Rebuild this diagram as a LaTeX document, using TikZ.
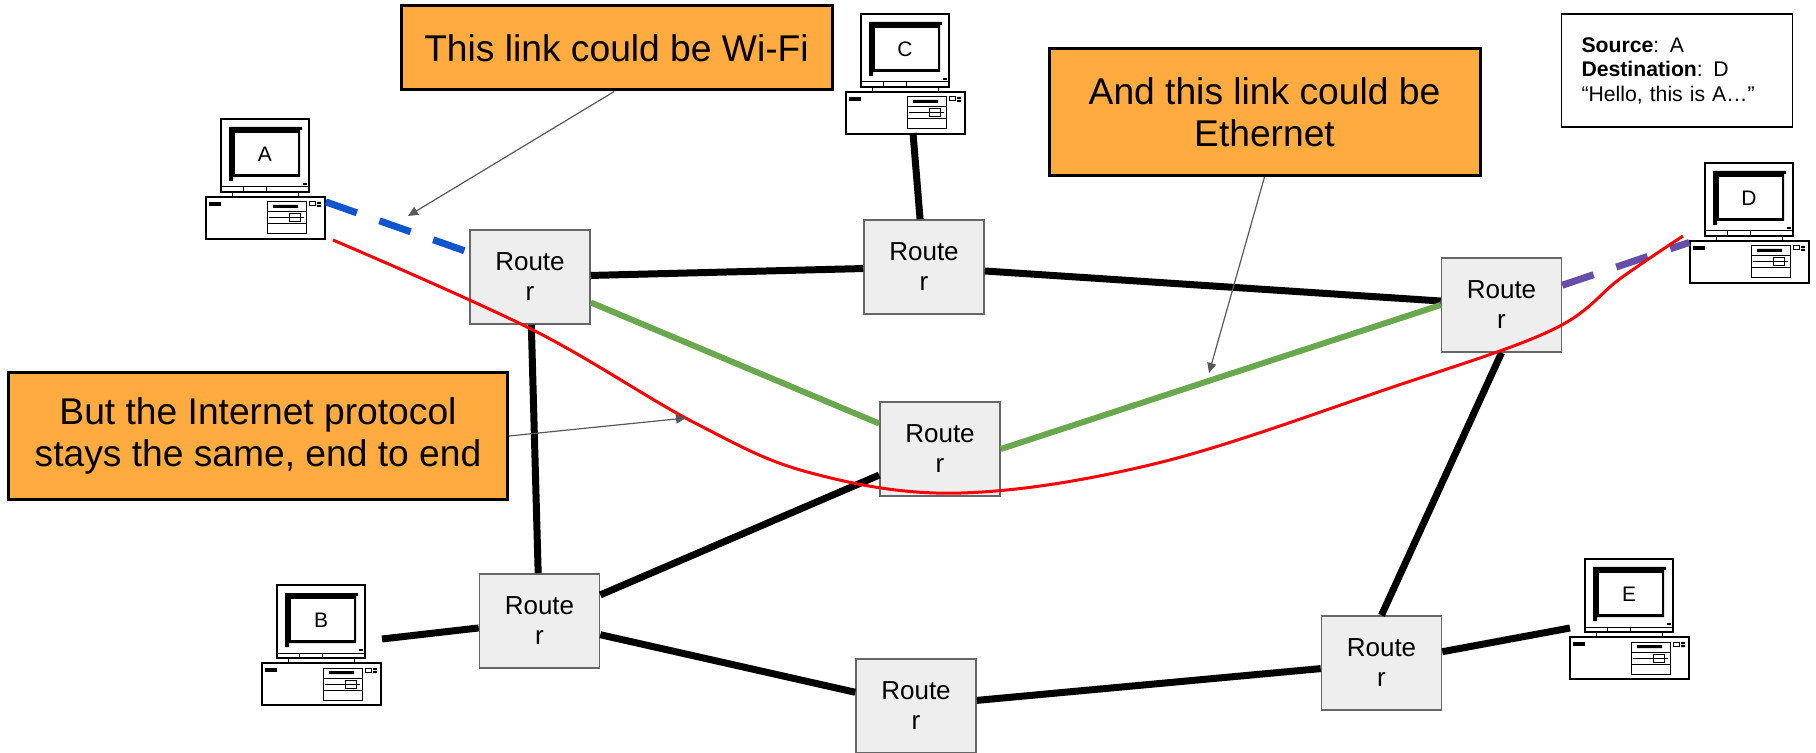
\documentclass[tikz,border=0pt]{standalone}
\usepackage{fontspec}
\setmainfont{Liberation Sans}
\usetikzlibrary{arrows.meta}
\definecolor{notefill}{HTML}{FFAB40}
\definecolor{routerfill}{HTML}{EEEEEE}
\definecolor{routerline}{HTML}{666666}
\definecolor{wifiblue}{HTML}{1155CC}
\definecolor{ethgreen}{HTML}{6AA84F}
\definecolor{linkpurple}{HTML}{674EA7}
\definecolor{pointergray}{HTML}{595959}
\tikzset{
  router/.style={draw=routerline,fill=routerfill,line width=0.8pt,minimum width=60pt,minimum height=47pt,
    inner sep=0pt,align=center,font=\fontsize{13}{15}\selectfont},
  note/.style={draw=black,fill=notefill,line width=1.5pt,minimum width=215.5pt,inner sep=0pt,align=center,
    font=\fontsize{18.6}{21}\selectfont},
  infobox/.style={draw=black,line width=0.9pt,text width=95.5pt,inner xsep=10pt,minimum height=56.5pt,align=left,
    font=\fontsize{10.6}{12.25}\selectfont},
  wire/.style={line width=3.5pt},
  wifilink/.style={wire,wifiblue,dash pattern=on 16.5pt off 12pt},
  pointer/.style={pointergray,line width=0.6pt,-{Triangle[length=5pt,width=4.5pt]}},
  pics/computer/.style={code={
    \draw[line width=0.7pt] (15,0) rectangle (103,73);
    \draw[line width=0.5pt] (15,68) -- (103,68) (37,68) -- (37,73) (60,68) -- (60,73);
    \fill (23,8) -- (96,8) -- (96,11) -- (94,11) -- (94,58) -- (27,58) -- (27,62) -- (23,62) -- cycle;
    \fill[white] (29,14) rectangle (92,55);
    \fill (97,64) rectangle (101,66);
    \draw[line width=0.5pt] (26,73) -- (26,78) (92,73) -- (92,78);
    \node[draw,line width=0.7pt,minimum width=59.5pt,minimum height=21pt,inner sep=0pt] (-base) at (59.5,99) {};
    \fill (3,83) rectangle (15,87);
    \draw[line width=0.5pt] (61,83) rectangle (100,115) (61,93) -- (100,93) (61,105) -- (100,105)
      (63,99) -- (98,99) (83,95) rectangle (94,103) (103,83) rectangle (109,87);
    \fill (67,86) rectangle (92,89) (111,83) rectangle (115,85) (111,86) rectangle (115,88);
    \node[font=\fontsize{10.5}{12}\selectfont,inner sep=0pt] (-label) at (59,35) {#1};
  }}
}
\begin{document}
\begin{tikzpicture}[x=0.5pt,y=-0.5pt]
  \useasboundingbox (0,0) rectangle (1816,753);
  % hosts
  \pic (A) at (206,119) {computer={A}};
  \pic (B) at (262,585) {computer={B}};
  \pic (C) at (846,14) {computer={C}};
  \pic (D) at (1690,163) {computer={D}};
  \pic (E) at (1570,559) {computer={E}};
  % routers
  \node[router] (r1) at (530,277) {Route\\r};
  \node[router] (r2) at (924,267) {Route\\r};
  \node[router] (r3) at (1501.5,305) {Route\\r};
  \node[router] (r4) at (940,449) {Route\\r};
  \node[router] (r5) at (539.5,621) {Route\\r};
  \node[router] (r6) at (916,706) {Route\\r};
  \node[router] (r7) at (1381.5,663) {Route\\r};
  % free ends
  \coordinate (bend) at (382,639);
  \coordinate (cend) at (913,133);
  \coordinate (eend) at (1570,628);
  \begin{scope}[wire]
    \draw (r1) to (r2);
    \draw (r2) to (r3);
    \draw (r1) to (r5);
    \draw (r5) to (r4);
    \draw (r5) to (r6);
    \draw (r6) to (r7);
    \draw (r7.north) to (r3.south);
    \draw (bend) to (r5);
    \draw (cend) to (r2);
    \draw (r7) to (eend);
  \end{scope}
  \begin{scope}[wire,ethgreen,line width=3pt]
    \draw (r1) to (r4);
    \draw (r4.east) to (r3.west);
  \end{scope}
  \draw[wifilink] (A-base.15) to (r1.158);
  \draw[wifilink,linkpurple] (r3.18.6) to (D-base.162);
  % route of the packet
  \coordinate (redstart) at (333,240);
  \coordinate (redend) at (1683,236);
  \draw[red,line width=1.5pt] plot[smooth,tension=0.6] coordinates {(redstart) (533,330) (695,423) (811,473)
    (961,493) (1158,463) (1390,388) (1552,330) (1621,278) (redend)};
  % notes
  \node[note,minimum height=42pt] (wifinote) at (616.5,48) {This link could be Wi-Fi};
  \node[note,minimum height=63.5pt] (ethnote) at (1264.5,112) {And this link could be\\Ethernet};
  \node[note,minimum width=249.5pt,minimum height=63.5pt] (ipnote) at (258,436) {But the Internet protocol\\stays the same, end to end};
  \node[infobox] (packet) at (1677,70.5) {\textbf{Source}: A\\\textbf{Destination}: D\\“Hello, this is A…”};
  \coordinate (wifitip) at (408,216);
  \coordinate (ethtip) at (1209,373);
  \coordinate (iptip) at (686,418);
  \draw[pointer] (wifinote.-93) to (wifitip);
  \draw[pointer] (ethnote.south) to (ethtip);
  \draw[pointer] (ipnote.east) to (iptip);
\end{tikzpicture}
\end{document}
